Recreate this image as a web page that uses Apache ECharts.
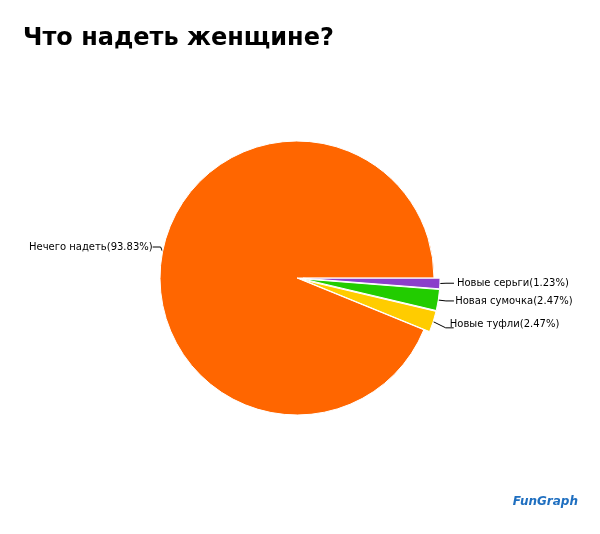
<!DOCTYPE html>
<html><head><meta charset="utf-8">
<script src="https://cdn.jsdelivr.net/npm/echarts@6/dist/echarts.min.js"></script>
<style>html,body{margin:0;background:#fff}#c{width:600px;height:534px}</style>
</head><body><div id="c"></div>
<script>
var names=['Новые серьги','Новая сумочка','Новые туфли','Нечего надеть'];
var values=[1.23,2.47,2.47,93.83];
var colors=['#8B3FCB','#22CC00','#FFCC00','#FF6600'];
var chart=echarts.init(document.getElementById('c'));
chart.setOption({
 title:{text:'Что надеть женщине?',left:18,top:22,textStyle:{fontFamily:'DejaVu Sans',fontSize:24,fontWeight:'bold',color:'#000'}},
 graphic:[{type:'text',right:22,bottom:26,style:{text:'FunGraph',font:'italic bold 12px DejaVu Sans',fill:'#1f6fc0'}}],
 series:[{type:'pie',center:[297,278],radius:137,startAngle:0,clockwise:true,
  selectedMode:'multiple',selectedOffset:6,animation:false,
  itemStyle:{borderColor:'#fff',borderWidth:1},
  label:{fontFamily:'DejaVu Sans',fontSize:10,color:'#000',distanceToLabelLine:1,formatter:function(p){return p.name+'('+p.value.toFixed(2)+'%)';}},
  labelLine:{show:true,length:8,length2:8,lineStyle:{color:'#000',width:1}},
  labelLayout:function(p){
    var pos=[[448,283],[448,300],[448,326],[29,247]][p.dataIndex];
    return {x:pos[0],y:pos[1],align:'left',verticalAlign:'middle'};
  },
  data:names.map(function(n,i){return {name:n,value:values[i],selected:i<3,itemStyle:{color:colors[i]}};})
 }]
});
</script></body></html>
